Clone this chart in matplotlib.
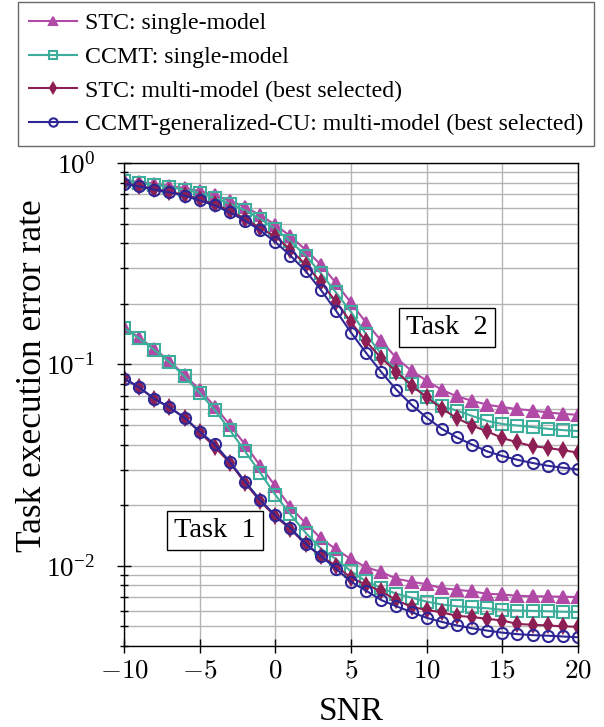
import numpy as np
import matplotlib
matplotlib.use("Agg")
import matplotlib.pyplot as plt
from matplotlib.ticker import FuncFormatter, LogLocator

plt.rcParams['font.family'] = ['Liberation Serif', 'DejaVu Serif']
plt.rcParams['mathtext.fontset'] = 'cm'

# SNR values
snr = list(range(-10, 21))

# Task 2 curves
t2_stc_single = [0.825, 0.805, 0.79, 0.77, 0.75, 0.725, 0.69, 0.65, 0.605, 0.55,
                 0.494, 0.432, 0.371, 0.313, 0.254, 0.202, 0.161, 0.131, 0.1075, 0.093,
                 0.083, 0.0748, 0.0694, 0.066, 0.0631, 0.0614, 0.060, 0.059, 0.0578, 0.0568, 0.0562]
t2_ccmt_single = [0.815, 0.796, 0.78, 0.76, 0.737, 0.71, 0.67, 0.628, 0.582, 0.527,
                  0.471, 0.408, 0.347, 0.284, 0.228, 0.182, 0.141, 0.1125, 0.092, 0.0799,
                  0.0687, 0.0619, 0.059, 0.0555, 0.0524, 0.0506, 0.0497, 0.0489, 0.0479, 0.0472, 0.0467]
t2_stc_multi = [0.795, 0.77, 0.745, 0.72, 0.695, 0.66, 0.625, 0.578, 0.528, 0.475,
                0.432, 0.371, 0.313, 0.256, 0.205, 0.162, 0.130, 0.1075, 0.092, 0.0785,
                0.0687, 0.0604, 0.0541, 0.0497, 0.0465, 0.0431, 0.041, 0.0393, 0.0385, 0.0375, 0.0365]
t2_ccmt_gen = [0.787, 0.765, 0.737, 0.715, 0.688, 0.652, 0.616, 0.568, 0.517, 0.463,
               0.405, 0.347, 0.291, 0.235, 0.185, 0.144, 0.114, 0.0917, 0.0748, 0.063,
               0.0544, 0.0479, 0.0434, 0.040, 0.037, 0.0351, 0.0336, 0.0324, 0.0314, 0.0307, 0.0301]

# Task 1 curves
t1_stc_single = [0.153, 0.136, 0.1195, 0.104, 0.0885, 0.0748, 0.0618, 0.050, 0.040, 0.0314,
                 0.0249, 0.0195, 0.0163, 0.0137, 0.0121, 0.0108, 0.00985, 0.00932, 0.00863, 0.00834,
                 0.0081, 0.00775, 0.00761, 0.00747, 0.00727, 0.00721, 0.0071, 0.00707, 0.00705, 0.00703, 0.0070]
t1_ccmt_single = [0.1515, 0.1347, 0.118, 0.1025, 0.0872, 0.0721, 0.0594, 0.0472, 0.037, 0.029,
                  0.0225, 0.018, 0.0146, 0.0122, 0.0108, 0.0094, 0.00838, 0.00776, 0.00727, 0.00695,
                  0.00664, 0.00643, 0.0063, 0.00623, 0.00616, 0.00605, 0.006, 0.00598, 0.00595, 0.00592, 0.0059]
t1_stc_multi = [0.0855, 0.077, 0.0675, 0.0612, 0.0544, 0.0462, 0.0388, 0.0325, 0.0258, 0.0209,
                0.0176, 0.0152, 0.0128, 0.0112, 0.0100, 0.00872, 0.00806, 0.00747, 0.00676, 0.00625,
                0.00605, 0.00587, 0.00565, 0.00557, 0.00546, 0.00535, 0.00515, 0.0051, 0.00506, 0.00501, 0.00498]
t1_ccmt_gen = [0.0851, 0.077, 0.0675, 0.0612, 0.0544, 0.0464, 0.0401, 0.0328, 0.0262, 0.0212,
               0.0178, 0.0154, 0.0129, 0.0112, 0.0097, 0.00834, 0.00753, 0.00676, 0.0063, 0.00589,
               0.00552, 0.00527, 0.00506, 0.0049, 0.00477, 0.00466, 0.00458, 0.00453, 0.0045, 0.00446, 0.00442]

labels = ["STC: single-model", "CCMT: single-model",
          "STC: multi-model (best selected)",
          "CCMT-generalized-CU: multi-model (best selected)"]
colors = ["#B04AA6", "#3EAE9C", "#8E1F55", "#2E2694"]
markers = ["^", "s", "d", "o"]
fills = [True, False, True, False]

fig = plt.figure(figsize=(6.04, 7.27), dpi=100)
ax = fig.add_axes([0.2053, 0.1114, 0.7517, 0.6644])

series = [(t2_stc_single, t1_stc_single), (t2_ccmt_single, t1_ccmt_single),
          (t2_stc_multi, t1_stc_multi), (t2_ccmt_gen, t1_ccmt_gen)]

handles = []
for (t2, t1), lab, c, m, f in zip(series, labels, colors, markers, fills):
    kw = dict(color=c, marker=m, markersize=8 if m != "d" else 7, linewidth=1.5,
              markeredgewidth=1.5, markerfacecolor=c if f else "none")
    h, = ax.plot(snr, t2, label=lab, **kw)
    ax.plot(snr, t1, **kw)
    handles.append(h)

ax.set_yscale("log")
ax.set_xlim(-10, 20)
ax.set_ylim(0.004, 1)
ax.set_xticks(range(-10, 21, 5))
ax.xaxis.set_major_formatter(FuncFormatter(lambda v, p: r"$%d$" % v))
ax.yaxis.set_major_locator(LogLocator(base=10, numticks=10))
ax.yaxis.set_minor_locator(LogLocator(base=10, subs=np.arange(2, 10), numticks=20))
ax.yaxis.set_minor_formatter(FuncFormatter(lambda v, p: ""))

ax.grid(True, which="major", color="#b4b4b4", linewidth=1)
ax.grid(True, which="minor", axis="y", color="#b4b4b4", linewidth=1)
ax.set_axisbelow(True)
ax.tick_params(axis="both", which="major", direction="inout", length=10,
               width=1, labelsize=19.5)
ax.tick_params(axis="y", which="major", pad=16)
ax.tick_params(axis="x", which="major", pad=4)
ax.tick_params(axis="y", which="minor", direction="inout", length=6, width=1)
ax.tick_params(top=False, right=False, which="both")
for s in ax.spines.values():
    s.set_linewidth(1)

ax.set_xlabel("SNR", fontsize=24)
ax.set_ylabel("Task execution error rate", fontsize=25.5)
ax.xaxis.set_label_coords(0.5, -0.105)
ax.yaxis.set_label_coords(-0.165, 0.56)

box = dict(boxstyle="square,pad=0.25", facecolor="white", edgecolor="black", linewidth=1)
ax.text(11.35, 0.152, "Task  2", fontsize=20.5, ha="center", va="center", bbox=box)
ax.text(-4.0, 0.015, "Task  1", fontsize=20.5, ha="center", va="center", bbox=box)

leg = fig.legend(handles=handles, loc="upper left", bbox_to_anchor=(18 / 604, 1 - 2 / 727),
                 borderaxespad=0, fontsize=17.2, frameon=True, fancybox=False,
                 edgecolor="#444444", handlelength=2.0, markerscale=0.75, borderpad=0.45,
                 labelspacing=0.5, handletextpad=0.35)
leg.get_frame().set_linewidth(1)

fig.savefig("out.png", dpi=100)
